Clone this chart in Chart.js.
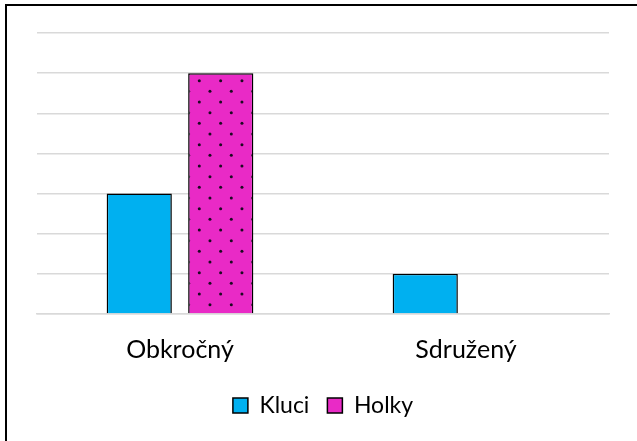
<!DOCTYPE html>
<html>
<head>
<meta charset="utf-8">
<script src="https://cdn.jsdelivr.net/npm/chart.js@4"></script>
<style>
  html, body { margin: 0; padding: 0; background: #fff; overflow: hidden; }
  #wrap { width: 637px; height: 441px; position: relative; }
</style>
</head>
<body>
<div id="wrap"><canvas id="c" width="637" height="441"></canvas></div>
<script>
const categories = ["Obkročný", "Sdružený"];
const seriesNames = ["Kluci", "Holky"];
const kluci = [3, 1];
const holky = [6, 0];
const yTicks = [0, 1, 2, 3, 4, 5, 6, 7];

const PINK = '#E92AC6';
const BLUE = '#00B0F0';

function dotPattern() {
  const t = document.createElement('canvas');
  t.width = 64; t.height = 64;
  const g = t.getContext('2d');
  g.fillStyle = PINK;
  g.fillRect(0, 0, 64, 64);
  g.fillStyle = '#1a0a20';
  const s = 64 / 3, r = 64 / 6;
  for (let j = 0; j < 6; j++) {
    const y = (16.7 + j * r) % 64;
    const x0 = (7.3 + (j % 2) * r) % s;
    for (let i = -1; i < 4; i++) {
      const x = x0 + i * s;
      g.beginPath();
      g.arc(x, y, 1.5, 0, Math.PI * 2);
      g.fill();
      if (y < 2) { g.beginPath(); g.arc(x, y + 64, 1.5, 0, Math.PI * 2); g.fill(); }
      if (y > 62) { g.beginPath(); g.arc(x, y - 64, 1.5, 0, Math.PI * 2); g.fill(); }
    }
  }
  return document.getElementById('c').getContext('2d').createPattern(t, 'repeat');
}

const framePlugin = {
  id: 'frame',
  beforeDraw(chart) {
    const ctx = chart.ctx;
    ctx.save();
    ctx.fillStyle = '#fff';
    ctx.fillRect(0, 0, chart.width, chart.height);
    ctx.strokeStyle = '#000';
    ctx.lineWidth = 2;
    ctx.beginPath();
    ctx.moveTo(6, chart.height + 5);
    ctx.lineTo(6, 5);
    ctx.lineTo(chart.width + 5, 5);
    ctx.stroke();
    ctx.restore();
  }
};

const FONT = "Lato, 'Open Sans', sans-serif";

new Chart(document.getElementById('c'), {
  type: 'bar',
  data: {
    labels: categories,
    datasets: [
      { label: seriesNames[0], data: kluci, backgroundColor: BLUE, borderColor: '#000', borderWidth: 1.5, borderSkipped: 'bottom' },
      { label: seriesNames[1], data: holky, backgroundColor: dotPattern(), borderColor: '#000', borderWidth: 1.5, borderSkipped: 'bottom' }
    ]
  },
  options: {
    responsive: false,
    animation: false,
    devicePixelRatio: 1,
    datasets: { bar: { categoryPercentage: 0.57, barPercentage: 0.8 } },
    layout: { padding: { left: 37, right: 28, top: 33, bottom: 14 } },
    scales: {
      x: {
        afterFit(scale) { scale.height -= 10; },
        grid: { display: false, drawTicks: false },
        border: { display: true, color: '#D9D9D9', width: 1.5 },
        ticks: { color: '#000', font: { family: FONT, size: 25 }, padding: 21 }
      },
      y: {
        min: 0, max: yTicks[yTicks.length - 1],
        afterBuildTicks(axis) { axis.ticks = yTicks.map(v => ({ value: v })); },
        grid: { color: '#D9D9D9', lineWidth: 1.5, drawTicks: false },
        border: { display: false },
        ticks: { display: false }
      }
    },
    plugins: {
      legend: {
        position: 'bottom',
        labels: {
          color: '#000',
          font: { family: FONT, size: 23 },
          boxWidth: 15, boxHeight: 15,
          padding: 18,
          generateLabels(chart) {
            return chart.data.datasets.map((d, i) => ({
              text: d.label,
              fillStyle: i === 0 ? BLUE : PINK,
              strokeStyle: '#000',
              lineWidth: 1.5,
              datasetIndex: i
            }));
          }
        }
      },
      tooltip: { enabled: false }
    }
  },
  plugins: [framePlugin]
});
</script>
</body>
</html>
